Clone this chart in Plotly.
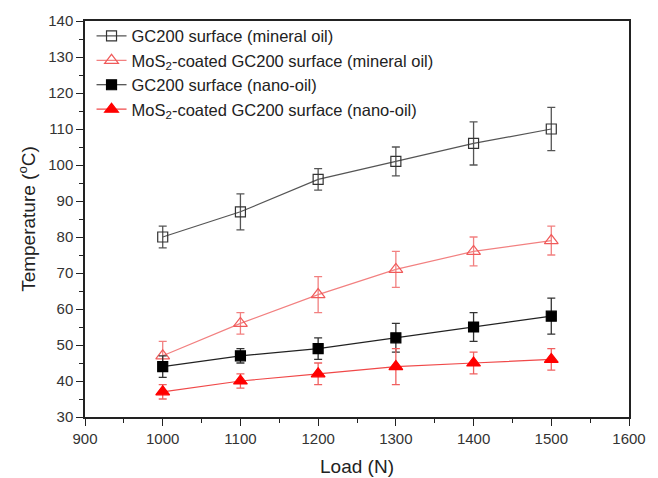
import plotly.graph_objects as go

load = [1000, 1100, 1200, 1300, 1400, 1500]

gc_mineral = [80, 87, 96, 101, 106, 110]
gc_mineral_err = [3, 5, 3, 4, 6, 6]

mos2_mineral = [47, 56, 64, 71, 76, 79]
mos2_mineral_err = [4, 3, 5, 5, 4, 4]

gc_nano = [44, 47, 49, 52, 55, 58]
gc_nano_err = [3, 2, 3, 4, 4, 5]

mos2_nano = [37, 40, 42, 44, 45, 46]
mos2_nano_err = [2, 2, 3, 5, 3, 3]

names = [
    "GC200 surface (mineral oil)",
    "MoS<sub>2</sub>-coated GC200 surface (mineral oil)",
    "GC200 surface (nano-oil)",
    "MoS<sub>2</sub>-coated GC200 surface (nano-oil)",
]

series = [
    (gc_mineral, gc_mineral_err, "#555555", "#333333", "square-open", "#555555", 10),
    (mos2_mineral, mos2_mineral_err, "#f28080", "#f05a5a", "triangle-up-open", "#f28080", 12),
    (gc_nano, gc_nano_err, "#222222", "#000000", "square", "#333333", 10),
    (mos2_nano, mos2_nano_err, "#f04848", "#ff0000", "triangle-up", "#f06060", 12),
]

fig = go.Figure()
for name, (vals, errs, lc, mc, sym, ec, ms) in zip(names, series):
    fig.add_trace(go.Scatter(
        x=load, y=vals, name=name, mode="lines+markers",
        line=dict(color=lc, width=1.2),
        marker=dict(symbol=sym, size=ms, color=mc, line=dict(color=mc, width=1.2)),
        error_y=dict(type="data", array=errs, visible=True, color=ec, thickness=1.3, width=4),
    ))

font = "Liberation Sans, Arial, sans-serif"
# page body has an 8px default margin, so the figure is drawn 8px in from the corner
fig.update_layout(
    width=650, height=470,
    margin=dict(l=77, r=29, t=13, b=61, autoexpand=False),
    plot_bgcolor="white", paper_bgcolor="white",
    font=dict(family=font, size=15, color="#222222"),
    showlegend=True,
    legend=dict(x=0.012, y=1.006, xanchor="left", yanchor="top",
                bgcolor="rgba(0,0,0,0)", borderwidth=0,
                font=dict(size=16.5, color="#222222"), tracegroupgap=0,
                itemwidth=30),
    xaxis=dict(
        title=dict(text="Load (N)", font=dict(size=19), standoff=14),
        range=[900, 1600], dtick=100, tick0=900,
        showgrid=False, zeroline=False, automargin=False,
        showline=True, linecolor="#222222", linewidth=1.5, mirror=True,
        ticks="outside", ticklen=7, tickwidth=1.4, tickcolor="#222222",
        minor=dict(ticks="outside", ticklen=4, dtick=50, tickcolor="#222222", tickwidth=1.2),
        tickfont=dict(size=15, color="#333333"),
    ),
    yaxis=dict(
        title=dict(text="Temperature (<sup>o</sup>C)", font=dict(size=19), standoff=8),
        range=[30, 140], dtick=10, tick0=30,
        showgrid=False, zeroline=False, automargin=False,
        showline=True, linecolor="#222222", linewidth=1.5, mirror=True,
        ticks="outside", ticklen=7, tickwidth=1.4, tickcolor="#222222",
        minor=dict(ticks="outside", ticklen=4, dtick=5, tickcolor="#222222", tickwidth=1.2),
        tickfont=dict(size=15, color="#333333"),
    ),
)

fig.write_html("out.html")
